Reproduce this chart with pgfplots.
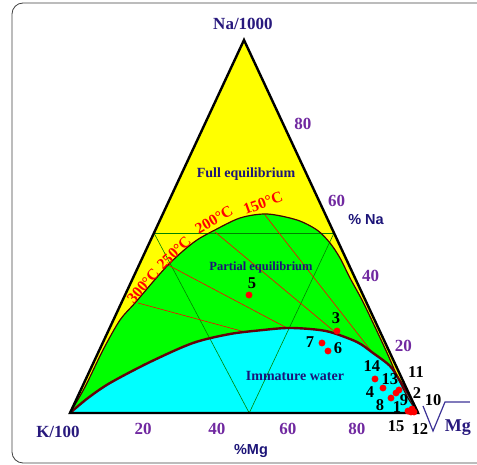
\documentclass[border=0pt]{standalone}
\usepackage{pgfplots}
\pgfplotsset{compat=1.18}
\usepackage{pgfplotstable}
\usepackage{fontspec}
\setmainfont{Liberation Serif}
\setsansfont{Liberation Sans}
\definecolor{navy}{RGB}{28,20,120}
\definecolor{vtxnavy}{RGB}{40,25,125}
\definecolor{tickpurple}{RGB}{112,40,160}
\definecolor{fullgreen}{RGB}{0,255,0}
\definecolor{immcyan}{RGB}{0,255,255}
\definecolor{fullyellow}{RGB}{255,255,0}
\definecolor{immcurve}{RGB}{100,0,10}
\definecolor{fullcurve}{RGB}{70,0,0}
\definecolor{gridgreen}{RGB}{0,130,0}
\definecolor{sqrtblue}{RGB}{60,50,150}
\definecolor{tred}{RGB}{255,0,0}

% x = %Mg + %Na/2 (position along base), y = %Na
\pgfplotstableread{
x y
0 0
4.31 6.97
9.48 16.89
14.37 24.93
18.68 29.49
23.56 34.85
28.16 39.68
32.47 43.43
36.49 46.38
41.09 48.79
48.85 52.28
56.61 53.35
65.23 51.74
70.98 49.06
74.71 45.58
77.59 41.55
80.46 36.19
83.91 30.29
87.64 23.06
91.38 15.55
94.25 9.38
97.13 4.02
100 0
}\fulleq

\pgfplotstableread{
x y
0 0
5.17 4.02
11.49 8.04
22.99 13.67
35.34 18.77
45.98 21.18
55.46 22.25
62.36 22.79
68.97 22.52
74.71 21.72
82.47 19.03
87.07 16.09
91.95 12.60
94.83 8.58
97.70 4.29
100 0
}\immature

\pgfplotstableread{
x y
51.44 31.64
76.72 21.98
72.41 18.77
74.14 16.62
87.64 9.12
89.94 6.70
92.24 4.02
93.68 5.36
94.54 6.17
97.13 0.54
97.99 0.27
98.85 0.27
98.28 1.07
}\samples

\newcommand{\tkf}{\fontsize{17}{17}\selectfont\bfseries}
\newcommand{\slf}{\fontsize{16.5}{16.5}\selectfont\bfseries}
\newcommand{\tlf}{\fontsize{15.5}{15.5}\selectfont\bfseries}

\begin{document}
\begin{tikzpicture}
\useasboundingbox (0,0) rectangle (477pt,465pt);
\begin{axis}[at={(0,0)}, anchor=south west, scale only axis,
  width=477pt, height=465pt,
  xmin=-20.115, xmax=116.954, ymin=-13.941, ymax=110.724,
  hide axis, clip=false]

% frame
\draw[black!75, line width=0.8pt, rounded corners=11pt]
  (rel axis cs:1,0.99355) -- (rel axis cs:0.02516,0.99355)
  -- (rel axis cs:0.02516,0.0043) -- (rel axis cs:1,0.0043);

% regions
\addplot[fill=fullyellow, draw=none] coordinates {(0,0) (100,0) (50,100)} -- cycle;
\addplot[fill=fullgreen, draw=none, smooth] table {\fulleq} -- cycle;
\addplot[fill=immcyan, draw=none, smooth] table {\immature} -- cycle;

% green grid lines
\addplot[gridgreen, line width=0.6pt] coordinates {(24.13,48.26) (75.87,48.26)};
\addplot[gridgreen, line width=0.6pt] coordinates {(24.13,48.26) (51.5,0) (75.87,48.26)};

% red isotherm lines
\addplot[tred, line width=0.6pt] coordinates {(19.54,29.49) (50.29,21.72)};
\addplot[tred, line width=0.6pt] coordinates {(28.16,39.68) (62.36,22.79)};
\addplot[tred, line width=0.6pt] coordinates {(41.67,48.53) (76.15,21.72)};
\addplot[tred, line width=0.6pt] coordinates {(56.03,53.08) (86.78,16.35)};

% curves
\addplot[fullcurve, line width=1.2pt, smooth] table {\fulleq};
\addplot[immcurve, line width=2.4pt, smooth] table {\immature};

% triangle
\addplot[black, line width=2.4pt] coordinates {(0,0) (100,0) (50,100)} -- cycle;

% samples
\addplot[only marks, mark=*, mark size=3.2pt, tred, mark options={draw=tred, fill=tred}] table {\samples};

% vertex labels
\node[font=\tkf, text=vtxnavy] at (axis cs:49.71,104.29) {Na/1000};
\node[font=\tkf, text=vtxnavy] at (axis cs:-3.45,-5.09) {K/100};
\node[font=\fontsize{18}{18}\selectfont\bfseries, text=vtxnavy] at (axis cs:111.49,-4.02) {Mg};
\addplot[sqrtblue, line width=1.2pt] coordinates {(101.44,1.88) (104.31,-4.83) (107.76,2.95) (114.94,2.95)};
\node[font=\fontsize{14.5}{14.5}\selectfont\sffamily\bfseries, text=navy] at (axis cs:52.01,-10.19) {\%Mg};
\node[font=\fontsize{14.5}{14.5}\selectfont\sffamily\bfseries, text=navy] at (axis cs:85.06,51.99) {\% Na};

% tick labels
\node[font=\tkf, text=tickpurple] at (axis cs:20.98,-4.29) {20};
\node[font=\tkf, text=tickpurple] at (axis cs:42.24,-4.29) {40};
\node[font=\tkf, text=tickpurple] at (axis cs:62.64,-4.29) {60};
\node[font=\tkf, text=tickpurple] at (axis cs:82.47,-4.29) {80};
\node[font=\tkf, text=tickpurple] at (axis cs:66.95,77.48) {80};
\node[font=\tkf, text=tickpurple] at (axis cs:76.58,56.84) {60};
\node[font=\tkf, text=tickpurple] at (axis cs:86.35,36.73) {40};
\node[font=\tkf, text=tickpurple] at (axis cs:95.83,17.96) {20};

% region labels
\node[font=\fontsize{14}{14}\selectfont\bfseries, text=navy] at (axis cs:50.57,64.08) {Full equilibrium};
\node[font=\fontsize{12.5}{12.5}\selectfont\bfseries, text=navy] at (axis cs:54.89,39.14) {Partial equilibrium};
\node[font=\fontsize{14}{14}\selectfont\bfseries, text=navy] at (axis cs:64.66,9.92) {Immature water};

% temperature labels
\node[font=\tlf, text=tred, rotate=50, inner sep=0pt] at (axis cs:20.98,34.05) {300°C};
\node[font=\tlf, text=tred, rotate=45, inner sep=0pt] at (axis cs:29.89,42.90) {250°C};
\node[font=\tlf, text=tred, rotate=30, inner sep=0pt] at (axis cs:41.38,51.74) {200°C};
\node[font=\tlf, text=tred, rotate=20, inner sep=0pt] at (axis cs:55.46,56.30) {150°C};

% sample labels
\node[font=\slf] at (axis cs:52.30,34.85) {5};
\node[font=\slf] at (axis cs:76.44,25.47) {3};
\node[font=\slf] at (axis cs:68.97,19.03) {7};
\node[font=\slf] at (axis cs:77.01,17.43) {6};
\node[font=\slf] at (axis cs:86.78,12.60) {14};
\node[font=\slf] at (axis cs:91.95,9.12) {13};
\node[font=\slf] at (axis cs:99.43,10.99) {11};
\node[font=\slf] at (axis cs:86.21,5.63) {4};
\node[font=\slf] at (axis cs:89.08,2.14) {8};
\node[font=\slf] at (axis cs:93.97,1.61) {1};
\node[font=\slf] at (axis cs:95.98,3.49) {9};
\node[font=\slf] at (axis cs:99.71,5.36) {2};
\node[font=\slf] at (axis cs:104.31,3.49) {10};
\node[font=\slf] at (axis cs:93.68,-3.49) {15};
\node[font=\slf] at (axis cs:100.57,-4.29) {12};

\end{axis}
\end{tikzpicture}
\end{document}
